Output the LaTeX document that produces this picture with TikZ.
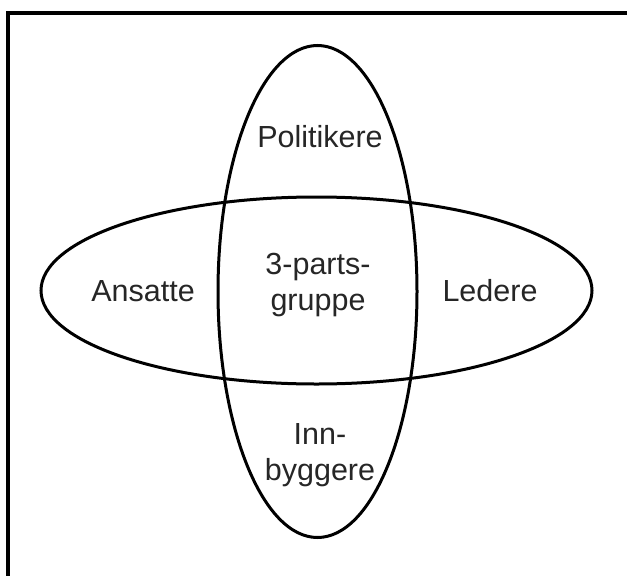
\documentclass[tikz,border=0pt]{standalone}
\usepackage{fontspec}
\setmainfont{Liberation Sans}
\usetikzlibrary{shapes.geometric}
\begin{document}
\begin{tikzpicture}[x=1pt,y=-1pt,
  ell/.style={draw=black,line width=3pt},
  lbl/.style={font=\fontsize{30.5}{36}\selectfont,align=center,inner sep=0pt,text=black!85}]
\useasboundingbox (0,0) rectangle (627,576);
\begin{scope}
\clip (0,0) rectangle (627,576);
\draw[line width=4pt] (7.5,700) -- (7.5,13) -- (700,13);
\end{scope}
\node[ell,ellipse,minimum width=199pt,minimum height=492pt,inner sep=0pt] (v) at (317.5,291.5) {};
\node[ell,ellipse,minimum width=551pt,minimum height=187pt,inner sep=0pt] (h) at (316.5,290.5) {};
\node[lbl] (pol) at (320,137) {Politikere};
\node[lbl] (ans) at (143,291) {Ansatte};
\node[lbl] (led) at (490,291) {Ledere};
\node[lbl] (tre) at (318,285) {3-parts-\\gruppe};
\node[lbl] (inn) at (320,455) {Inn-\\byggere};
\end{tikzpicture}
\end{document}
